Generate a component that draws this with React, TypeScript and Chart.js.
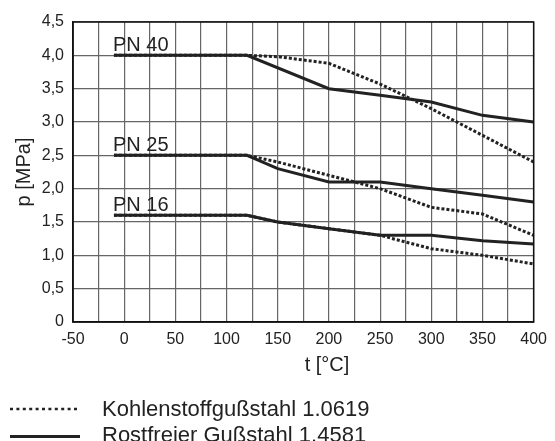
import React, { useEffect, useRef } from "react";
import { Chart, registerables } from "chart.js";

Chart.register(...registerables);

// ---- data ----
const xStartTemps = [-10, 120];
const carbonTemps = [-10, 120, 150, 200, 250, 300, 350, 400];
const carbonPN40 = [4.0, 4.0, 3.98, 3.88, 3.57, 3.2, 2.8, 2.4];
const carbonPN25 = [2.5, 2.5, 2.4, 2.2, 2.0, 1.72, 1.62, 1.3];
const carbonPN16 = [1.6, 1.6, 1.5, 1.4, 1.3, 1.1, 1.0, 0.87];

const steelTemps40 = [-10, 120, 200, 250, 300, 350, 400];
const steelPN40 = [4.0, 4.0, 3.5, 3.4, 3.3, 3.1, 3.0];
const steelTemps = [-10, 120, 150, 200, 250, 300, 350, 400];
const steelPN25 = [2.5, 2.5, 2.3, 2.1, 2.1, 2.0, 1.9, 1.8];
const steelPN16 = [1.6, 1.6, 1.5, 1.4, 1.3, 1.3, 1.22, 1.17];

const pnLabels = ["PN 40", "PN 25", "PN 16"];
const pnLevels = [4.0, 2.5, 1.6];
const legendLabels = ["Kohlenstoffgußstahl 1.0619", "Rostfreier Gußstahl 1.4581"];
const xTitle = "t [°C]";
const yTitle = "p [MPa]";

const FONT = "'Liberation Sans', Arial, Helvetica, sans-serif";
const INK = "#222";

const pts = (xs: number[], ys: number[]) => xs.map((x, i) => ({ x, y: ys[i] }));

export default function App() {
  const ref = useRef<HTMLCanvasElement | null>(null);

  useEffect(() => {
    if (!ref.current) return;
    const dotted = {
      borderColor: INK,
      borderWidth: 3,
      borderDash: [3, 2],
      borderCapStyle: "butt" as const,
      pointRadius: 0,
      fill: false,
      tension: 0,
    };
    const solid = {
      borderColor: INK,
      borderWidth: 3,
      pointRadius: 0,
      fill: false,
      tension: 0,
    };

    const overlay = {
      id: "overlay",
      afterDraw(chart: any) {
        const { ctx, chartArea, scales } = chart;
        const xs = scales.x;
        const ys = scales.y;
        ctx.save();
        // frame
        ctx.strokeStyle = "#111";
        ctx.lineWidth = 1.5;
        ctx.strokeRect(chartArea.left, chartArea.top, chartArea.right - chartArea.left, chartArea.bottom - chartArea.top);
        // PN labels
        ctx.fillStyle = INK;
        ctx.font = `20px ${FONT}`;
        ctx.textAlign = "left";
        ctx.textBaseline = "alphabetic";
        pnLabels.forEach((lbl, i) => {
          ctx.fillText(lbl, xs.getPixelForValue(xStartTemps[0]) - 1, ys.getPixelForValue(pnLevels[i]) - 4);
        });
        // axis titles
        ctx.font = `20px ${FONT}`;
        ctx.textAlign = "center";
        ctx.fillText(xTitle, 327, 371);
        ctx.save();
        ctx.translate(30, (chartArea.top + chartArea.bottom) / 2);
        ctx.rotate(-Math.PI / 2);
        ctx.textBaseline = "alphabetic";
        ctx.fillText(yTitle, 0, 0);
        ctx.restore();
        // legend
        ctx.strokeStyle = INK;
        ctx.lineWidth = 2.5;
        ctx.setLineDash([3, 3.4]);
        ctx.beginPath();
        ctx.moveTo(10, 409);
        ctx.lineTo(80, 409);
        ctx.stroke();
        ctx.setLineDash([]);
        ctx.lineWidth = 3;
        ctx.beginPath();
        ctx.moveTo(10, 436.5);
        ctx.lineTo(80, 436.5);
        ctx.stroke();
        ctx.font = `22px ${FONT}`;
        ctx.textAlign = "left";
        ctx.fillText(legendLabels[0], 102, 416);
        ctx.fillText(legendLabels[1], 102, 442);
        ctx.restore();
      },
    };

    const chart = new Chart(ref.current, {
      type: "line",
      data: {
        datasets: [
          { label: legendLabels[0] + " PN40", data: pts(carbonTemps, carbonPN40), ...dotted },
          { label: legendLabels[0] + " PN25", data: pts(carbonTemps, carbonPN25), ...dotted },
          { label: legendLabels[0] + " PN16", data: pts(carbonTemps, carbonPN16), ...dotted },
          { label: legendLabels[1] + " PN40", data: pts(steelTemps40, steelPN40), ...solid },
          { label: legendLabels[1] + " PN25", data: pts(steelTemps, steelPN25), ...solid },
          { label: legendLabels[1] + " PN16", data: pts(steelTemps, steelPN16), ...solid },
        ],
      },
      options: {
        responsive: false,
        animation: false,
        events: [],
        layout: { padding: { left: 0, top: 22, right: 15, bottom: 89 } },
        plugins: { legend: { display: false }, tooltip: { enabled: false }, title: { display: false } },
        scales: {
          x: {
            type: "linear",
            min: -50,
            max: 400,
            afterFit: (s: any) => { s.height = 30; },
            ticks: {
              stepSize: 25,
              autoSkip: false,
              maxRotation: 0,
              padding: 8,
              color: INK,
              font: { family: FONT, size: 16 },
              callback: (v: any) => (Number(v) % 50 === 0 ? String(v) : ""),
            },
            grid: { color: "#666", lineWidth: 1.2, drawTicks: false },
            border: { color: "#111", width: 1.5 },
          },
          y: {
            type: "linear",
            min: 0,
            max: 4.5,
            afterFit: (s: any) => { s.width = 73; },
            ticks: {
              stepSize: 0.5,
              padding: 9,
              color: INK,
              font: { family: FONT, size: 16 },
              callback: (v: any) => (Number(v) === 0 ? "0" : Number(v).toFixed(1).replace(".", ",")),
            },
            grid: { color: "#666", lineWidth: 1.2, drawTicks: false },
            border: { color: "#111", width: 1.5 },
          },
        },
      },
      plugins: [overlay],
    });
    return () => chart.destroy();
  }, []);

  return (
    <div style={{ position: "fixed", left: 0, top: 0, width: 555, height: 441, background: "#fff", overflow: "hidden" }}>
      <canvas ref={ref} width={555} height={441} style={{ display: "block", width: 555, height: 441 }} />
    </div>
  );
}
